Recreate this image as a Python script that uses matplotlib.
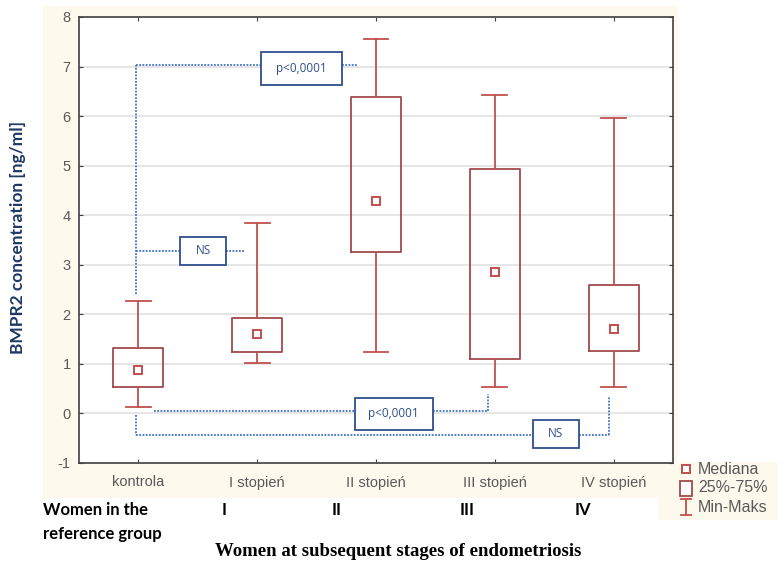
import matplotlib
matplotlib.use("Agg")
import matplotlib.pyplot as plt
from matplotlib.patches import Rectangle
from matplotlib.lines import Line2D

# ---- data ----
categories = ["kontrola", "I stopień", "II stopień", "III stopień", "IV stopień"]
stage_labels = ["I", "II", "III", "IV"]
mins = [0.12, 1.01, 1.24, 0.53, 0.54]
q1 = [0.54, 1.23, 3.26, 1.10, 1.26]
medians = [0.87, 1.60, 4.29, 2.86, 1.70]
q3 = [1.33, 1.92, 6.38, 4.94, 2.59]
maxs = [2.27, 3.85, 7.55, 6.43, 5.97]
yticks = list(range(-1, 9))

W, H = 784, 565
fig = plt.figure(figsize=(W / 100, H / 100), dpi=100)
fig.patch.set_facecolor("white")

def fx(px):
    return px / W

def fy(py):
    return 1 - py / H

beige = "#FDF9EC"
fig.patches.append(Rectangle((fx(43), fy(498)), fx(678) - fx(43), fy(6) - fy(498),
                             transform=fig.transFigure, facecolor=beige, edgecolor="none", zorder=-10))
fig.patches.append(Rectangle((fx(658), fy(520)), fx(778) - fx(658), fy(462) - fy(520),
                             transform=fig.transFigure, facecolor=beige, edgecolor="none", zorder=-10))

ax = fig.add_axes([fx(79), fy(463), fx(673) - fx(79), fy(17) - fy(463)])
ax.set_zorder(2)
ax.set_facecolor("white")

box_col = "#A04A4C"
whisk_col = "#C0504D"
stats = []
for i in range(len(categories)):
    stats.append(dict(med=medians[i], q1=q1[i], q3=q3[i], whislo=mins[i], whishi=maxs[i], fliers=[]))
ax.bxp(stats, positions=range(len(categories)), widths=0.42, capwidths=0.21,
       showfliers=False, patch_artist=False, manage_ticks=False,
       boxprops=dict(color=box_col, linewidth=1.3),
       whiskerprops=dict(color=whisk_col, linewidth=1.3),
       capprops=dict(color=whisk_col, linewidth=1.3),
       medianprops=dict(linewidth=0))
ax.plot(range(len(categories)), medians, linestyle="none", marker="s", markersize=6,
        markerfacecolor="white", markeredgecolor=whisk_col, markeredgewidth=1.4, zorder=5)

ax.set_xlim(-0.5, 4.5)
ax.set_ylim(-1, 8)
ax.set_yticks(yticks)
ax.set_yticklabels([str(t) for t in yticks])
ax.set_xticks(range(len(categories)))
ax.set_xticklabels(categories)
ax.grid(axis="y", color="#E2E2E2", linewidth=1.2)
ax.set_axisbelow(True)
for s in ax.spines.values():
    s.set_color("#404040")
    s.set_linewidth(1.2)
ax.tick_params(direction="in", length=3, color="#404040", top=True, right=True,
               labelcolor="#595959", labelsize=10.5)
ax.tick_params(axis="x", pad=9)
ax.tick_params(axis="y", pad=6)
for lab in ax.get_xticklabels() + ax.get_yticklabels():
    lab.set_fontfamily("Liberation Sans")

# ---- significance annotations ----
dot = dict(color="#4472C4", linestyle=(0, (1, 0.8)), linewidth=1.3, zorder=6)
box_edge = "#2F4E8C"
txt_col = "#2F4E8C"

def sig_box(x0, x1, y0, y1, text):
    ax.add_patch(Rectangle((x0, y0), x1 - x0, y1 - y0, facecolor="white",
                           edgecolor=box_edge, linewidth=1.3, zorder=7))
    ax.text((x0 + x1) / 2, (y0 + y1) / 2, text, ha="center", va="center",
            fontsize=8.5, color=txt_col, fontfamily="Open Sans", zorder=8)

xk = -0.02
# kontrola vs II
ax.plot([xk, xk], [2.42, 7.04], **dot)
ax.plot([xk, 1.03], [7.04, 7.04], **dot)
ax.plot([1.71, 1.84], [7.04, 7.04], **dot)
sig_box(1.03, 1.71, 6.63, 7.29, "p<0,0001")
# kontrola vs I
ax.plot([xk, 0.35], [3.28, 3.28], **dot)
ax.plot([0.74, 0.89], [3.28, 3.28], **dot)
sig_box(0.35, 0.74, 3.0, 3.56, "NS")
# kontrola vs III
ax.plot([0.13, 1.82], [0.05, 0.05], **dot)
ax.plot([2.48, 2.94], [0.05, 0.05], **dot)
ax.plot([2.94, 2.94], [0.05, 0.40], **dot)
sig_box(1.82, 2.48, -0.33, 0.32, "p<0,0001")
# kontrola vs IV
ax.plot([xk, xk], [-0.03, -0.44], **dot)
ax.plot([xk, 3.32], [-0.44, -0.44], **dot)
ax.plot([3.71, 3.96], [-0.44, -0.44], **dot)
ax.plot([3.96, 3.96], [-0.44, 0.35], **dot)
sig_box(3.32, 3.71, -0.69, -0.13, "NS")

# ---- labels ----
fig.text(fx(18), fy(237), "BMPR2 concentration [ng/ml]", rotation=90, ha="center", va="center",
         fontsize=12.5, fontweight="bold", color="#1F3864", fontfamily="Lato")
fig.text(fx(43), fy(510), "Women in the", ha="left", va="center", fontsize=12,
         fontweight="bold", color="black", fontfamily="Lato")
fig.text(fx(43), fy(534), "reference group", ha="left", va="center", fontsize=12,
         fontweight="bold", color="black", fontfamily="Lato")
for xp, s in zip([222, 332, 460, 575], stage_labels):
    fig.text(fx(xp), fy(510), s, ha="left", va="center", fontsize=12,
             fontweight="bold", color="black", fontfamily="Lato")
fig.text(fx(398), fy(552), "Women at subsequent stages of endometriosis", ha="center", va="center",
         fontsize=13.5, fontweight="bold", color="black", fontfamily="Liberation Serif")

# ---- legend ----
leg_col = "#595959"
fig.add_artist(Line2D([fx(686)], [fy(469)], marker="s", markersize=6, markerfacecolor="white",
                      markeredgecolor=whisk_col, markeredgewidth=1.4, transform=fig.transFigure))
fig.add_artist(Rectangle((fx(680), fy(496)), fx(692) - fx(680), fy(481) - fy(496), facecolor="white",
                         edgecolor=box_col, linewidth=1.3, transform=fig.transFigure))
fig.add_artist(Line2D([fx(686), fx(686)], [fy(499), fy(515)], color=whisk_col, linewidth=1.3,
                      transform=fig.transFigure))
fig.add_artist(Line2D([fx(681), fx(691)], [fy(499), fy(499)], color=whisk_col, linewidth=1.3,
                      transform=fig.transFigure))
fig.add_artist(Line2D([fx(681), fx(691)], [fy(515), fy(515)], color=whisk_col, linewidth=1.3,
                      transform=fig.transFigure))
for yp, s in zip([469, 488, 507], ["Mediana", "25%-75%", "Min-Maks"]):
    fig.text(fx(698), fy(yp), s, ha="left", va="center", fontsize=11.5, color=leg_col,
             fontfamily="Liberation Sans")

fig.savefig("out.png", dpi=100)
